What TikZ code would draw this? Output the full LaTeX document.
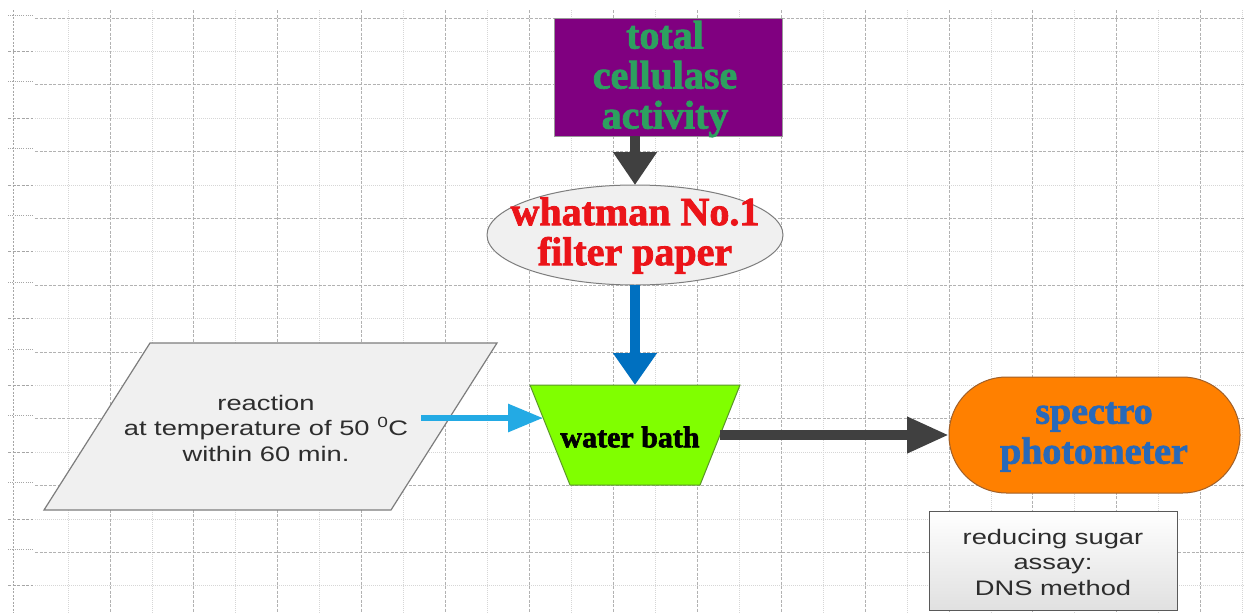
\documentclass[tikz,border=0pt]{standalone}
\usepackage{fontspec}
\setmainfont{Liberation Serif}
\newfontfamily\headfont[FakeBold=2]{Liberation Serif}
\newfontfamily\bodyfont[FakeStretch=1.3]{Liberation Sans}
\usetikzlibrary{arrows.meta,shapes.geometric,calc}
\definecolor{boxpurple}{RGB}{128,0,128}
\definecolor{txtgreen}{RGB}{45,160,95}
\definecolor{txtred}{RGB}{235,20,25}
\definecolor{txtblue}{RGB}{40,105,185}
\definecolor{txtgray}{RGB}{45,45,45}
\definecolor{arrowgray}{RGB}{64,64,64}
\definecolor{arrowblue}{RGB}{0,112,192}
\definecolor{arrowcyan}{RGB}{35,170,228}
\definecolor{bathgreen}{RGB}{128,255,0}
\definecolor{bathedge}{RGB}{90,150,40}
\definecolor{specorange}{RGB}{255,128,0}
\definecolor{specedge}{RGB}{160,95,40}
\definecolor{lightfill}{RGB}{240,240,240}
\definecolor{edgegray}{RGB}{125,125,125}
\begin{document}
\begin{tikzpicture}[x=1pt,y=-1pt,
  gridmajor/.style={draw=black!30, line width=0.9pt, dash pattern=on 3pt off 1.5pt},
  gridminor/.style={draw=black!16, line width=0.8pt, dash pattern=on 1pt off 1pt},
  headtext/.style={font={\headfont\bfseries\fontsize{40}{40}\selectfont}, align=center, inner sep=0pt},
  bodytext/.style={font={\bodyfont\fontsize{21}{25.5}\selectfont}, align=center, inner sep=0pt, text=txtgray},
  plainnode/.style={inner sep=0pt, outer sep=0pt},
  bigarrow/.style={line width=10pt, -{Triangle[length=33pt,width=42pt]}},
]
\useasboundingbox (0,0) rectangle (1244,613);
\fill[white] (0,0) rectangle (1244,613);

% ---- grid ----
\foreach \k [evaluate=\k as \yy using 18+33.4*\k] in {1,3,...,17}
  \draw[gridminor] (35,\yy) -- (1244,\yy);
\foreach \k [evaluate=\k as \xx using 68+41.95*\k] in {0,2,...,28}
  \draw[gridminor] (\xx,10) -- (\xx,613);
\foreach \k [evaluate=\k as \yy using 18+33.4*\k] in {0,2,...,16}
  \draw[gridmajor] (35,\yy) -- (1244,\yy);
\foreach \k [evaluate=\k as \xx using 68+41.95*\k] in {1,3,...,27}
  \draw[gridmajor] (\xx,10) -- (\xx,613);
% ruler
\draw[black!35, line width=0.8pt, dash pattern=on 2pt off 1.5pt] (13,10) -- (13,613);
\foreach \k [evaluate=\k as \yy using 18+33.4*\k] in {0,2,...,16}
  \draw[black!35, line width=0.8pt, dash pattern=on 1pt off 1.2pt] (8,\yy-3) -- (33,\yy-3);
\foreach \k [evaluate=\k as \yy using 18+33.4*\k] in {1,3,...,17}
  \draw[black!35, line width=0.8pt, dash pattern=on 3pt off 1.5pt] (8,\yy) -- (33,\yy);

% ---- top box ----
\node[plainnode, draw=black!40, line width=0.8pt, fill=boxpurple,
      minimum width=228pt, minimum height=118pt] (total) at (668,77) {};
\node[headtext, text=txtgreen] (totaltext) at (665,79) {total\\cellulase\\activity};

% ---- ellipse ----
\node[plainnode, ellipse, draw=edgegray, line width=1pt, fill=lightfill,
      minimum width=296pt, minimum height=100pt] (paper) at (635,235) {};
\node[headtext, text=txtred] (papertext) at (635,235.5) {whatman No.1\\filter paper};

% ---- water bath (trapezoid) ----
\node[plainnode, minimum width=210pt, minimum height=100pt] (bath) at (635,435) {};
\filldraw[fill=bathgreen, draw=bathedge, line width=1pt]
  (bath.north west) -- (bath.north east) -- ([xshift=-40pt]bath.south east)
  -- ([xshift=40pt]bath.south west) -- cycle;
\node[inner sep=0pt, font={\headfont\bfseries\fontsize{30}{30}\selectfont}, text=black] (bathtext) at (630,437) {water bath};

% ---- reaction (parallelogram) ----
\node[plainnode, minimum width=453pt, minimum height=167pt] (rxn) at (270.5,426.5) {};
\filldraw[fill=lightfill, draw=edgegray, line width=1.2pt]
  ([xshift=106pt]rxn.north west) -- (rxn.north east) -- ([xshift=-106pt]rxn.south east)
  -- (rxn.south west) -- cycle;
\node[bodytext] (rxntext) at (266,428) {reaction\\at temperature of 50 \textsuperscript{0}C\\within 60 min.};

% ---- spectrophotometer (stadium) ----
\node[plainnode, draw=specedge, line width=1pt, fill=specorange, rounded corners=57.5pt,
      minimum width=291pt, minimum height=116pt] (spec) at (1094.5,435) {};
\node[inner sep=0pt, align=center, font={\headfont\bfseries\fontsize{38}{40}\selectfont}, text=txtblue] (spectext) at (1094,437) {spectro\\photometer};

% ---- reducing sugar box ----
\node[plainnode, draw=black!65, line width=1pt, top color=white, bottom color=black!12,
      minimum width=248pt, minimum height=99pt] (dns) at (1053,560.5) {};
\node[bodytext] (dnstext) at (1053,562) {reducing sugar\\assay:\\DNS method};

% ---- connectors ----
\coordinate (rxnout) at (421,418);
\coordinate (bathin) at (543,418);
\coordinate (bathout) at (720,435);
\draw[bigarrow, draw=arrowgray, fill=arrowgray] (paper.north |- total.south) -- (paper.north);
\draw[line width=10pt, draw=arrowblue, -{Triangle[length=32pt,width=42pt]}] (paper.south) -- (bath.north -| paper.south);
\draw[line width=6pt, draw=arrowcyan, -{Triangle[length=35pt,width=27pt]}] (rxnout) -- (bathin);
\draw[line width=10pt, draw=arrowgray, -{Triangle[length=42pt,width=34pt]}] (bathout) -- (spec.west);
\end{tikzpicture}
\end{document}
